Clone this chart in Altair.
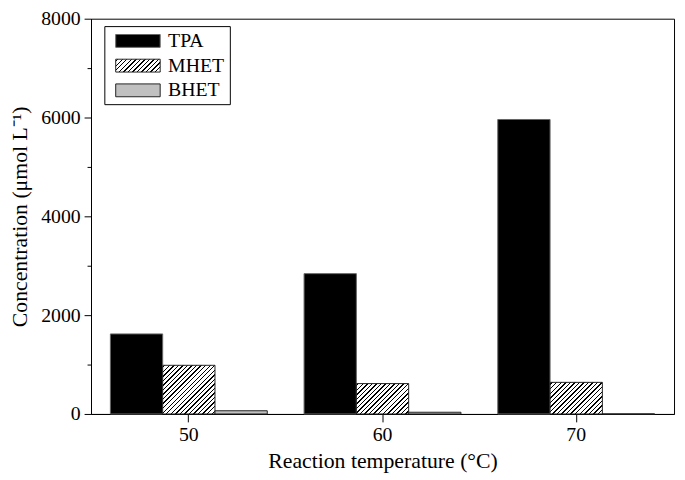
import altair as alt
import pandas as pd

# ---------------- data ----------------
temperatures = ["50", "60", "70"]
series = ["TPA", "MHET", "BHET"]
tpa = [1620, 2840, 5960]
mhet = [985, 615, 640]
bhet = [65, 35, 0]

rows = []
for i, t in enumerate(temperatures):
    rows.append({"temp": t, "series": "TPA", "value": tpa[i]})
    rows.append({"temp": t, "series": "MHET", "value": mhet[i]})
    rows.append({"temp": t, "series": "BHET", "value": bhet[i]})
df = pd.DataFrame(rows)

# ---------------- layout / style ----------------
W_PLOT, H_PLOT = 590, 400
Y_MAX = 8000
PAD_INNER, PAD_OUTER = 0.19, 0.1
FONT = "Liberation Serif"

step = W_PLOT / (len(temperatures) - PAD_INNER + 2 * PAD_OUTER)
bar_w = step * (1 - PAD_INNER) / len(series)


def hatch(w, h, spacing=4.6, dark=1.4):
    """Diagonal '/' hatching as a linear gradient in bounding-box units."""
    m = (w + h) / (w * w + h * h)
    total = w + h
    stops = []
    c = 0.0
    while c < total:
        a = min((c + (spacing - dark) / 2) / total, 1)
        b = min((c + (spacing + dark) / 2) / total, 1)
        s = min(c / total, 1)
        stops += [
            {"offset": s, "color": "#ffffff"},
            {"offset": a, "color": "#ffffff"},
            {"offset": a, "color": "#000000"},
            {"offset": b, "color": "#000000"},
            {"offset": b, "color": "#ffffff"},
        ]
        c += spacing
    return {"gradient": "linear", "x1": 0, "y1": 0, "x2": w * m, "y2": h * m, "stops": stops}


x_enc = alt.X(
    "temp:N",
    scale=alt.Scale(domain=temperatures, paddingInner=PAD_INNER, paddingOuter=PAD_OUTER),
    axis=alt.Axis(
        title="Reaction temperature (°C)",
        labelAngle=0,
        labelFont=FONT,
        labelFontSize=20,
        labelColor="black",
        labelPadding=3,
        tickSize=8,
        tickColor="black",
        domainColor="black",
        titleFont=FONT,
        titleFontSize=22,
        titleFontWeight="normal",
        titleColor="black",
        titlePadding=6,
        grid=False,
    ),
)
xoff = alt.XOffset("series:N", scale=alt.Scale(domain=series, paddingInner=0, paddingOuter=0))
y_enc = alt.Y(
    "value:Q",
    scale=alt.Scale(domain=[0, Y_MAX], nice=False),
    axis=alt.Axis(
        title="Concentration (μmol L⁻¹)",
        values=list(range(0, Y_MAX + 1, 1000)),
        format="d",
        labelExpr="datum.value % 2000 === 0 ? datum.label : ''",
        tickSize={"condition": {"test": "datum.value % 2000 === 0", "value": 7}, "value": 4},
        labelFont=FONT,
        labelFontSize=20,
        labelColor="black",
        labelPadding=4,
        tickColor="black",
        domainColor="black",
        titleFont=FONT,
        titleFontSize=22,
        titleFontWeight="normal",
        titleColor="black",
        titlePadding=9,
        grid=False,
    ),
)

base = alt.Chart(df).encode(x=x_enc, xOffset=xoff, y=y_enc)

layers = [
    base.transform_filter(alt.datum.series == "TPA").mark_bar(fill="black", stroke="#666666", strokeWidth=1)
]
for i, t in enumerate(temperatures):
    h = mhet[i] / Y_MAX * H_PLOT
    layers.append(
        base.transform_filter((alt.datum.series == "MHET") & (alt.datum.temp == t)).mark_bar(
            fill=hatch(bar_w, h), stroke="#222222", strokeWidth=1
        )
    )
layers.append(
    base.transform_filter(alt.datum.series == "BHET").mark_bar(fill="#c0c0c0", stroke="#222222", strokeWidth=1)
)
bars = alt.layer(*layers)

# ---------------- legend ----------------
leg_df = pd.DataFrame({"series": series})
leg_y = alt.Y(
    "series:N",
    scale=alt.Scale(domain=series, range=[16, 79], paddingInner=0.48, paddingOuter=0),
    axis=None,
)
frame = alt.Chart(pd.DataFrame({"k": [0]})).mark_rect(fill="white", stroke="black", strokeWidth=1).encode(
    x=alt.value(14), x2=alt.value(141), y=alt.value(8), y2=alt.value(87)
)
leg_base = alt.Chart(leg_df).encode(y=leg_y, x=alt.value(25), x2=alt.value(70))
sw_tpa = leg_base.transform_filter(alt.datum.series == "TPA").mark_rect(fill="black", stroke="#666666", strokeWidth=1)
sw_mhet = leg_base.transform_filter(alt.datum.series == "MHET").mark_rect(
    fill=hatch(45, 13), stroke="#222222", strokeWidth=1
)
sw_bhet = leg_base.transform_filter(alt.datum.series == "BHET").mark_rect(
    fill="#c0c0c0", stroke="#222222", strokeWidth=1
)
leg_text = alt.Chart(leg_df).mark_text(
    align="left", baseline="middle", font=FONT, fontSize=20, color="black"
).encode(x=alt.value(78), y=leg_y, text="series:N")
legend = alt.layer(frame, sw_tpa, sw_mhet, sw_bhet, leg_text)

chart = (
    alt.layer(bars, legend)
    .resolve_scale(y="independent")
    .properties(
        width=W_PLOT,
        height=H_PLOT,
        padding={"left": 84, "top": 8, "right": 3, "bottom": 64},
        autosize=alt.AutoSizeParams(type="none"),
        background="white",
    )
    .configure_view(stroke="black", strokeWidth=1)
)

chart.save("out.html", embed_options={"renderer": "svg", "actions": False})
